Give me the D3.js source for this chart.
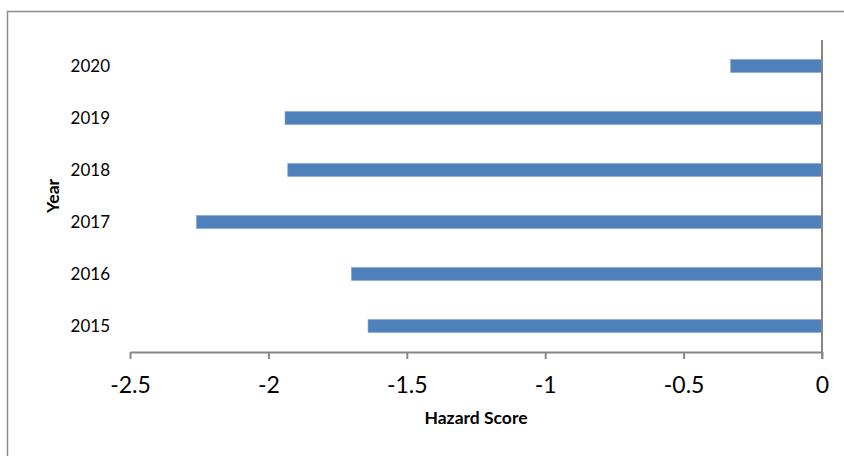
<!DOCTYPE html>
<html>
<head>
<meta charset="utf-8">
<script src="https://cdn.jsdelivr.net/npm/d3@7"></script>
<style>
  html, body { margin: 0; padding: 0; background: #fff; }
  svg { display: block; }
  text { font-family: Lato, "Open Sans", sans-serif; fill: #000; }
</style>
</head>
<body>
<svg id="chart" width="844" height="456"></svg>
<script>
// Hazard score per year
const years = ["2015", "2016", "2017", "2018", "2019", "2020"];
const hazardScores = [-1.64, -1.70, -2.26, -1.93, -1.94, -0.33];
const xTicks = [-2.5, -2, -1.5, -1, -0.5, 0];
const xTitle = "Hazard Score";
const yTitle = "Year";

const svg = d3.select("#chart");
const plot = { left: 130, right: 822, top: 40, bottom: 352 };

// Outer chart frame (right and bottom edges sit outside the view)
svg.append("rect")
  .attr("x", 7.5).attr("y", 11.5)
  .attr("width", 860).attr("height", 470)
  .attr("fill", "#fff")
  .attr("stroke", "#8c8c8c")
  .attr("stroke-width", 1.5);

const x = d3.scaleLinear().domain([-2.5, 0]).range([plot.left, plot.right]);
const y = d3.scaleBand()
  .domain(years.slice().reverse())
  .range([plot.top, plot.bottom])
  .paddingInner(0.75)
  .paddingOuter(0.375);

// Bars grow leftward from zero
svg.append("g").selectAll("rect")
  .data(years.map((yr, i) => ({ year: yr, value: hazardScores[i] })))
  .join("rect")
  .attr("x", d => x(d.value))
  .attr("y", d => y(d.year))
  .attr("width", d => x(0) - x(d.value))
  .attr("height", y.bandwidth())
  .attr("fill", "#4f81bd")
  .attr("stroke", "#7fa3d1")
  .attr("stroke-width", 0.6);

// Horizontal value axis (plain hyphen-minus labels)
const xAxis = svg.append("g")
  .attr("transform", `translate(0,${plot.bottom})`)
  .call(d3.axisBottom(x).tickValues(xTicks).tickFormat(d => String(d)).tickSize(7).tickSizeOuter(0));
xAxis.select(".domain").attr("stroke", "#868686").attr("stroke-width", 2);
xAxis.selectAll(".tick line").attr("stroke", "#868686").attr("stroke-width", 2);
xAxis.selectAll(".tick text")
  .attr("y", 33)
  .attr("dy", "0.35em")
  .style("font-size", "23px")
  .style("font-family", "Lato, sans-serif")
  .attr("fill", "#000");

// Vertical axis line at zero
svg.append("line")
  .attr("x1", x(0)).attr("x2", x(0))
  .attr("y1", plot.top).attr("y2", plot.bottom + 7)
  .attr("stroke", "#868686")
  .attr("stroke-width", 2);

// Year labels
svg.append("g").selectAll("text")
  .data(years)
  .join("text")
  .attr("x", 110)
  .attr("y", d => y(d) + y.bandwidth() / 2)
  .attr("dy", "0.36em")
  .attr("text-anchor", "end")
  .style("font-size", "17px")
  .text(d => d);

// Axis titles
svg.append("text")
  .attr("x", (plot.left + plot.right) / 2)
  .attr("y", 418)
  .attr("dy", "0.36em")
  .attr("text-anchor", "middle")
  .style("font-size", "17.5px")
  .style("font-weight", "bold")
  .text(xTitle);

svg.append("text")
  .attr("transform", `translate(59,${(plot.top + plot.bottom) / 2}) rotate(-90)`)
  .attr("text-anchor", "middle")
  .style("font-size", "17.5px")
  .style("font-weight", "bold")
  .text(yTitle);
</script>
</body>
</html>
